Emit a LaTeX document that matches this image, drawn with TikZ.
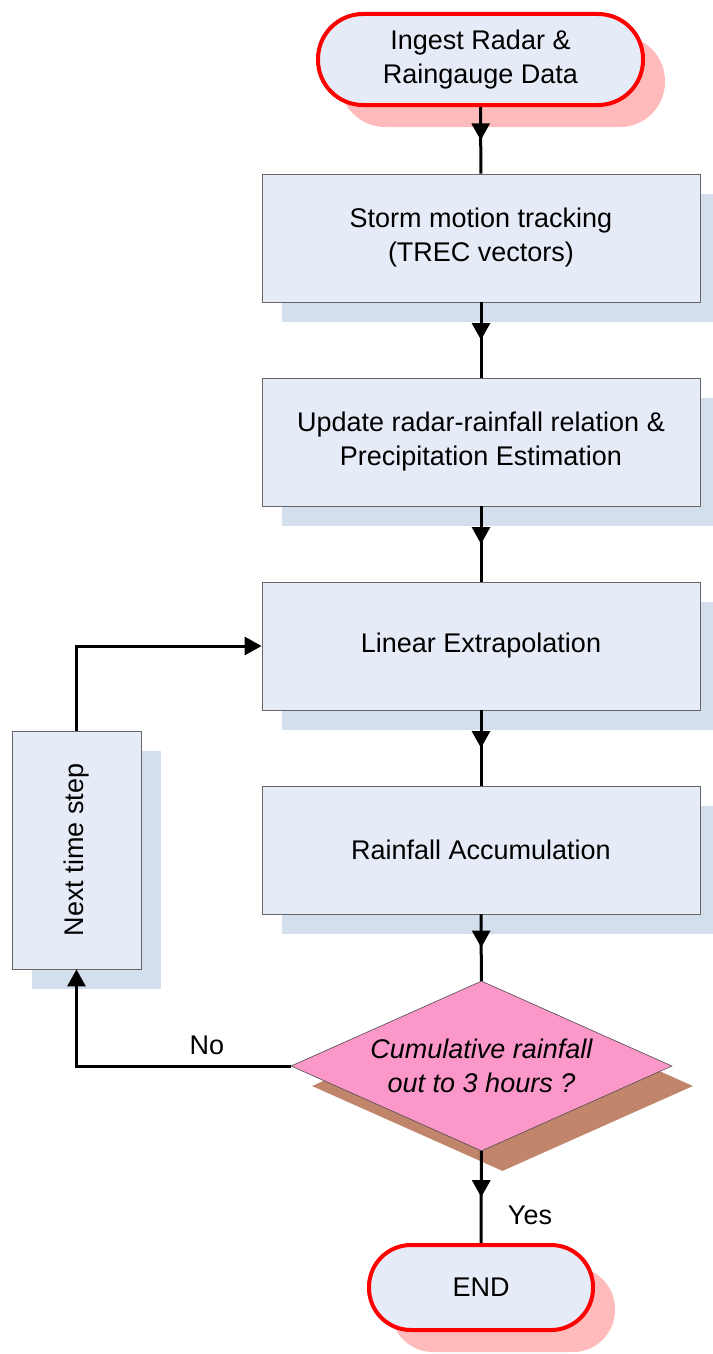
\documentclass[tikz,border=0pt]{standalone}
\usepackage{fontspec}
\setmainfont{Liberation Sans}
\usetikzlibrary{arrows.meta, shapes.geometric, shadows, decorations.markings}
\definecolor{boxfill}{HTML}{E6ECF7}
\definecolor{boxshade}{HTML}{D3DFEC}
\definecolor{termshade}{HTML}{FFBBBB}
\definecolor{decfill}{HTML}{FB98C9}
\definecolor{decshade}{HTML}{C0856A}
\tikzset{>={Triangle[length=17pt,width=18pt]}}
\tikzset{
  txt/.style={font=\fontsize{27pt}{34pt}\selectfont, align=center},
  process/.style={txt, rectangle, draw=black!60, line width=0.8pt, fill=boxfill,
    minimum width=438pt, minimum height=128pt,
    drop shadow={shadow xshift=20pt, shadow yshift=-20pt, opacity=1, fill=boxshade}},
  terminal/.style={txt, rectangle, draw=red, line width=4pt, fill=boxfill,
    drop shadow={shadow xshift=22pt, shadow yshift=-22pt, opacity=1, fill=termshade}},
  decision/.style={txt, diamond, draw=black!70, line width=0.6pt, fill=decfill,
    minimum width=381pt, minimum height=170pt, shape aspect=2.24, inner sep=-8pt,
    drop shadow={shadow xshift=21pt, shadow yshift=-20pt, opacity=1, fill=decshade}},
  flow/.style={line width=3pt},
  midarrow/.style={decoration={markings, mark=at position 0.5 with {\arrow{>}}},
    postaction={decorate}},
}
\begin{document}
\begin{tikzpicture}[x=1pt, y=-1pt]
        \fill[white] (0,0) rectangle (712,1354);
        \useasboundingbox (0,0) rectangle (712,1354);

        \node[terminal, minimum width=325pt, minimum height=91pt, rounded corners=45pt]
            (start) at (480.5,59.5) {Ingest Radar \&\\Raingauge Data};
        \node[process] (track) at (481,238) {Storm motion tracking\\(TREC vectors)};
        \node[process] (update) at (481,442) {Update radar-rainfall relation \&\\Precipitation Estimation};
        \node[process] (extrap) at (481,646) {Linear Extrapolation};
        \node[process] (accum) at (481,850) {Rainfall Accumulation};
        \node[decision] (check) at (481.5,1066) {\itshape Cumulative rainfall\\\itshape out to 3 hours ?};
        \node[terminal, minimum width=224pt, minimum height=85pt, rounded corners=42pt]
            (stop) at (481,1287.5) {END};
        \node[process, minimum width=129pt, minimum height=238pt]
            (next) at (76.5,850) {\rotatebox{90}{Next time step}};

        \foreach \a/\b in {start/track, track/update, update/extrap, extrap/accum, accum/check, check/stop}
        \draw[flow, midarrow] (\a) -- (\b);

        \draw[flow, ->] (check.west) -| (next.south);
        \draw[flow, ->] (next.north) |- (extrap.west);

        \node[txt] (no) at (207,1045) {No};
        \node[txt] (yes) at (530,1215) {Yes};
\end{tikzpicture}
\end{document}
